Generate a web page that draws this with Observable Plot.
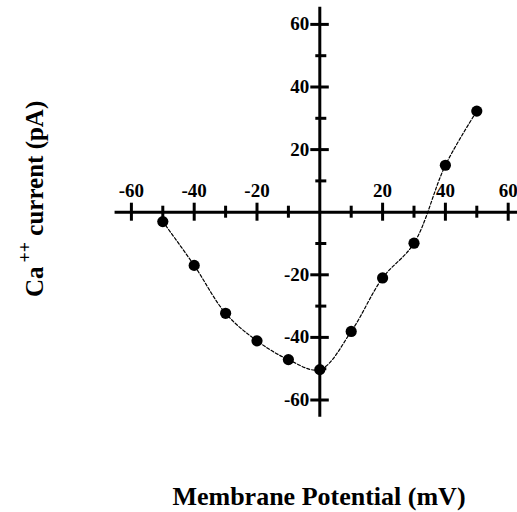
<!DOCTYPE html>
<html>
<head>
<meta charset="utf-8">
<script src="https://cdn.jsdelivr.net/npm/d3@7"></script>
<script src="https://cdn.jsdelivr.net/npm/@observablehq/plot@0.6"></script>
<style>
  html, body { margin: 0; padding: 0; background: #fff; }
  #chart svg { display: block; }
</style>
</head>
<body>
<div id="chart"></div>
<script>
// ---- data ----
const voltage = [-50, -40, -30, -20, -10, 0, 10, 20, 30, 40, 50];
const current = [-3, -17, -32.3, -41.1, -47.1, -50.3, -38.1, -21, -9.9, 15, 32.3];

const xMajorTicks = [-60, -40, -20, 20, 40, 60];
const xMinorTicks = [-50, -30, -10, 10, 30, 50];
const yMajorTicks = [-60, -40, -20, 20, 40, 60];
const yMinorTicks = [-50, -30, -10, 10, 30, 50];
const xTickLabels = ["-60", "-40", "-20", "20", "40", "60"];
const yTickLabels = ["-60", "-40", "-20", "20", "40", "60"];

const xTitle = "Membrane Potential (mV)";
const yTitleMain = "Ca";
const yTitleSup = "++";
const yTitleRest = " current (pA)";

// ---- layout ----
const W = 517, H = 512;
const x0 = 319.3, y0 = 211.7;   // pixel position of origin
const kx = 3.14, ky = 3.13;     // pixels per unit
const font = "'Liberation Serif', 'Times New Roman', serif";
const sw = 3;

const points = voltage.map((v, i) => ({v, c: current[i]}));
const xTicks = xMajorTicks.map((v, i) => ({v, label: xTickLabels[i]}));
const yTicks = yMajorTicks.map((v, i) => ({v, label: yTickLabels[i]}));

const u = px => px / ky;   // pixel length -> y units
const ux = px => px / kx;  // pixel length -> x units

const chart = Plot.plot({
  width: W,
  height: H,
  margin: 0,
  style: {fontFamily: font, background: "white", overflow: "visible"},
  x: {domain: [-70, 70], range: [x0 - 70 * kx, x0 + 70 * kx], axis: null},
  y: {domain: [-70, 70], range: [y0 + 70 * ky, y0 - 70 * ky], axis: null},
  marks: [
    // axes lines
    Plot.ruleY([0], {x1: -65.2, x2: 66, stroke: "black", strokeWidth: sw}),
    Plot.ruleX([0], {y1: -65.5, y2: 65.5, stroke: "black", strokeWidth: sw}),
    // x ticks
    Plot.ruleX(xMajorTicks, {x: d => d, y1: -u(9), y2: u(9), stroke: "black", strokeWidth: sw}),
    Plot.ruleX(xMinorTicks, {x: d => d, y1: -u(6), y2: u(6), stroke: "black", strokeWidth: sw}),
    // y ticks
    Plot.ruleY(yMajorTicks, {y: d => d, x1: -ux(9), x2: ux(9.5), stroke: "black", strokeWidth: sw}),
    Plot.ruleY(yMinorTicks, {y: d => d, x1: -ux(4), x2: ux(7), stroke: "black", strokeWidth: sw}),
    // tick labels
    Plot.text(xTicks, {x: "v", y: 0, text: "label", dy: -21, fontSize: 19, fontWeight: "bold", fill: "black"}),
    Plot.text(yTicks, {x: 0, y: "v", text: "label", textAnchor: "end", dx: -10.5, fontSize: 19, fontWeight: "bold", fill: "black"}),
    // data
    Plot.line(points, {x: "v", y: "c", curve: "catmull-rom", stroke: "black", strokeWidth: 1.2, strokeDasharray: "3,2"}),
    Plot.dot(points, {x: "v", y: "c", r: 5.6, fill: "black", stroke: "none"})
  ]
});

// axis titles
const svg = d3.select(chart);
svg.append("text")
  .attr("x", 319)
  .attr("y", 505)
  .attr("text-anchor", "middle")
  .attr("font-family", font)
  .attr("font-weight", "bold")
  .attr("font-size", 26)
  .attr("fill", "black")
  .text(xTitle);

const yt = svg.append("text")
  .attr("transform", "translate(43,297) rotate(-90)")
  .attr("text-anchor", "start")
  .attr("font-family", font)
  .attr("font-weight", "bold")
  .attr("font-size", 25)
  .attr("fill", "black");
yt.append("tspan").text(yTitleMain);
yt.append("tspan").attr("font-size", 18).attr("dx", 4).attr("dy", -12).text(yTitleSup);
yt.append("tspan").attr("dy", 12).text(yTitleRest);

document.getElementById("chart").appendChild(chart);
</script>
</body>
</html>
